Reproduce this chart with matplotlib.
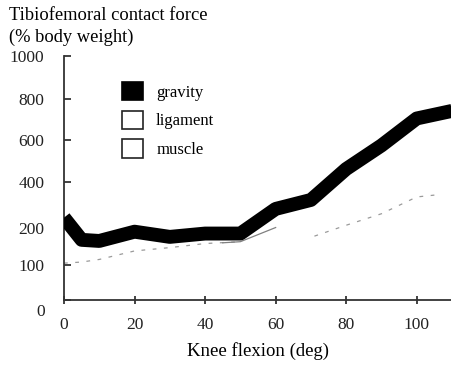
import numpy as np
import matplotlib
matplotlib.use("Agg")
import matplotlib.pyplot as plt
from matplotlib.patches import Patch
from matplotlib.transforms import ScaledTranslation

plt.rcParams["font.family"] = ["Liberation Serif", "DejaVu Serif"]

# Knee flexion angle (deg) and tibiofemoral contact force (% body weight)
flexion_gravity = [0, 5, 10, 20, 30, 40, 50, 60, 70, 80, 90, 100, 110]
force_gravity = [245, 168, 165, 190, 176, 185, 185, 283, 322, 462, 574, 705, 742]

flexion_ligament = [45, 50, 60]
force_ligament = [160, 163, 202]

flexion_muscle = [0, 5, 10, 20, 30, 40, 50, np.nan, 71, 80, 90, 100, 105]
force_muscle = [105, 108, 115, 138, 147, 158, 163, np.nan, 178, 212, 262, 335, 343]

y_ticks = [0, 100, 200, 400, 600, 800, 1000]
x_ticks = [0, 20, 40, 60, 80, 100]
legend_labels = ["gravity", "ligament", "muscle"]

# Expanded low range on the force axis (piecewise linear)
scale_vals = np.array([0, 100, 200, 400, 600, 800, 1000], dtype=float)
scale_pos = np.array([0, 35, 72, 118, 160, 201, 244], dtype=float)


def fwd(v):
    return np.interp(np.asarray(v, dtype=float), scale_vals, scale_pos)


def inv(p):
    return np.interp(np.asarray(p, dtype=float), scale_pos, scale_vals)


fig = plt.figure(figsize=(4.52, 3.66), dpi=100)
ax = fig.add_axes([64 / 452, 1 - 300 / 366, 1 - 64 / 452, 244 / 366])
ax.set_yscale("function", functions=(fwd, inv))
ax.set_xlim(0, 110)
ax.set_ylim(0, 1000)

ax.plot(flexion_muscle, force_muscle, color="#9a9a9a", lw=0.9,
        linestyle=(0, (3, 6)), zorder=2)
ax.plot(flexion_ligament, force_ligament, color="#808080", lw=0.9, zorder=2)
ax.plot(flexion_gravity, force_gravity, color="black", lw=10,
        solid_joinstyle="round", solid_capstyle="butt", zorder=3)

for side in ("top", "right"):
    ax.spines[side].set_visible(False)
for side in ("left", "bottom"):
    ax.spines[side].set_linewidth(1.3)
    ax.spines[side].set_color("#333333")

ax.set_yticks(y_ticks)
ax.set_yticklabels([str(t) for t in y_ticks])
ax.set_xticks(x_ticks)
ax.set_xticklabels([str(t) for t in x_ticks])
ax.tick_params(axis="y", direction="in", length=5, width=1.2, pad=14,
               labelsize=12.5, colors="#222222")
ax.tick_params(axis="x", direction="inout", length=6, width=1.2, pad=9,
               labelsize=12.5, colors="#222222")
zero_label = ax.yaxis.get_ticklabels()[0]
zero_label.set_transform(zero_label.get_transform()
                         + ScaledTranslation(0, -7 / 72, fig.dpi_scale_trans))

ax.set_xlabel("Knee flexion (deg)", fontsize=13.5, labelpad=7)

fig.text(9 / 452, 1 - 15 / 366, "Tibiofemoral contact force", fontsize=13.3,
         va="center", ha="left")
fig.text(9 / 452, 1 - 37 / 366, "(% body weight)", fontsize=13.3,
         va="center", ha="left")

handles = [Patch(facecolor="black", edgecolor="black", lw=1.2),
           Patch(facecolor="white", edgecolor="#222222", lw=1.2),
           Patch(facecolor="white", edgecolor="#222222", lw=1.2)]
fig.legend(handles, legend_labels, loc="upper left",
           bbox_to_anchor=(122 / 452, 1 - 82 / 366), frameon=False,
           fontsize=12, handlelength=1.25, handleheight=1.3,
           handletextpad=0.8, labelspacing=0.6, borderpad=0,
           borderaxespad=0)

fig.savefig("out.png", dpi=100)
